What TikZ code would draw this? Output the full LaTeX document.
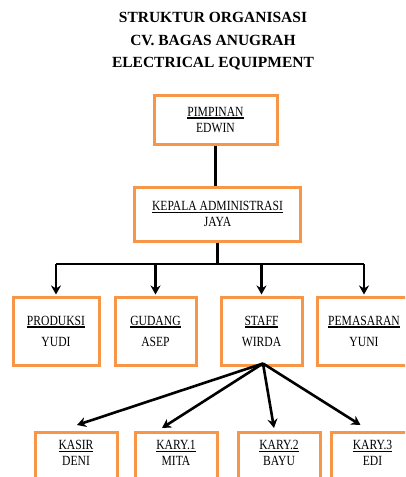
\documentclass[tikz,border=0pt]{standalone}
\usepackage{fontspec}
\setmainfont{Liberation Serif}
\newfontfamily\boxfont[FakeStretch=0.83]{Liberation Serif}
\usetikzlibrary{positioning,calc,arrows.meta}
\definecolor{boxorange}{RGB}{247,150,70}
\newcommand\garisbawah[1]{\setbox0\hbox{#1}\rlap{\rule[-2.6pt]{\wd0}{1.4pt}}\box0}

\begin{document}
\begin{tikzpicture}[x=1pt, y=-1pt,
					jabatan/.style={
						draw=boxorange, line width=3pt, fill=white,
						align=center, inner sep=0pt,
						font=\boxfont\fontsize{14}{16}\selectfont
					},
					anak/.style={
						jabatan, anchor=north, minimum width=82pt,
						inner ysep=8pt, text depth=40pt
					},
					garis/.style={draw=black, line width=2.6pt},
					panah/.style={garis, -{Stealth[length=9pt,width=10pt]}}
					]
					\useasboundingbox (0,0) rectangle (405,477);
					\clip (0,0) rectangle (405,477);
					
					% judul
					\node[align=center, font=\bfseries\fontsize{15.5}{22.5}\selectfont] (judul) at (213,41.5)
						{STRUKTUR ORGANISASI\\CV. BAGAS ANUGRAH\\ELECTRICAL EQUIPMENT};
					
					% pimpinan dan kepala administrasi
					\node[jabatan, minimum width=123pt, minimum height=49pt] (pimpinan) at (215.5,119.5)
						{\garisbawah{PIMPINAN}\\EDWIN};
					\node[jabatan, minimum width=166pt, minimum height=54pt] (kepala) at (217.5,214)
						{\garisbawah{KEPALA ADMINISTRASI}\\JAYA};
					
					% bagian
					\node[jabatan, minimum width=86pt, minimum height=68pt] (produksi) at (56,331)
						{\garisbawah{PRODUKSI}\\[5pt]YUDI};
					\node[jabatan, minimum width=81pt, minimum height=68pt] (gudang) at (155.5,331)
						{\garisbawah{GUDANG}\\[5pt]ASEP};
					\node[jabatan, minimum width=81pt, minimum height=68pt] (staff) at (261.5,331)
						{\garisbawah{STAFF}\\[5pt]WIRDA};
					\node[jabatan, minimum width=94pt, minimum height=68pt] (pemasaran) at (364,331)
						{\garisbawah{PEMASARAN}\\[5pt]YUNI};
					
					% karyawan di bawah staff
					\node[anak] (kasir) at (76,431) {\garisbawah{KASIR}\\DENI};
					\node[anak] (kary1) at (176,431) {\garisbawah{KARY.1}\\MITA};
					\node[anak] (kary2) at (279,431) {\garisbawah{KARY.2}\\BAYU};
					\node[anak] (kary3) at (372.5,431) {\garisbawah{KARY.3}\\EDI};
					
					% garis
					\draw[garis] (pimpinan.south) -- (pimpinan.south |- kepala.north);
					\coordinate (bus) at (217,264);
					\draw[garis] (kepala.south) -- (kepala.south |- bus);
					\draw[garis] (bus -| produksi.north) -- (bus -| pemasaran.north);
					\foreach \b in {produksi,gudang,staff,pemasaran}
						\draw[panah] (bus -| \b.north) -- ($(\b.north)+(0,-1)$);
					
					\coordinate (pusat) at ($(staff.south)+(1.5,-3)$);
					\draw[panah] (pusat) -- ($(kasir.north)+(1,-6)$);
					\draw[panah] (pusat) -- ($(kary1.north)+(-14,-3)$);
					\draw[panah] (pusat) -- ($(kary2.north)+(-5,-3)$);
					\draw[panah] (pusat) -- ($(kary3.north)+(-12,-6)$);
				\end{tikzpicture}
\end{document}
